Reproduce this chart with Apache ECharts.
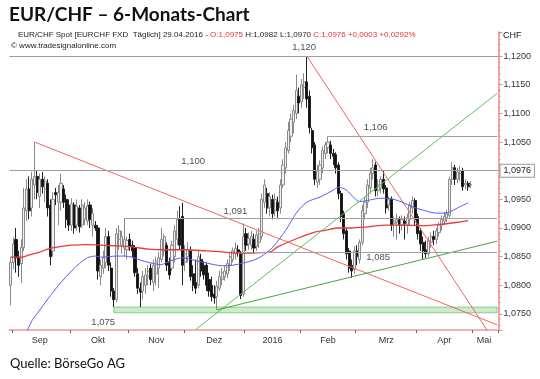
<!DOCTYPE html>
<html><head><meta charset="utf-8">
<script src="https://cdn.jsdelivr.net/npm/echarts@6/dist/echarts.min.js"></script>
<style>html,body{margin:0;padding:0;background:#fff}#c{width:540px;height:379px}</style>
</head><body><div id="c"></div>
<script>
// daily bars [open, close, low, high], 2015-08-31 .. 2016-04-29 (weekdays)
const ohlc = [
[1.0800,1.0840,1.0765,1.0850],
[1.0840,1.0872,1.0828,1.0884],[1.0880,1.0848,1.0822,1.0900],[1.0848,1.0835,1.0815,1.0860],[1.0838,1.0866,1.0804,1.0880],
[1.0866,1.0935,1.0860,1.0970],[1.0930,1.0968,1.0912,1.0985],[1.0968,1.0930,1.0915,1.0990],[1.0935,1.0985,1.0920,1.0998],
[1.0975,1.0990,1.0950,1.1050],[1.0990,1.0962,1.0950,1.1000],[1.0955,1.0985,1.0935,1.0995],[1.0985,1.0972,1.0960,1.0998],
[1.0968,1.0982,1.0945,1.0990],[1.0978,1.0935,1.0920,1.0985],[1.0940,1.0850,1.0835,1.0950],[1.0860,1.0950,1.0850,1.0962],
[1.0962,1.0958,1.0940,1.0970],[1.0945,1.0962,1.0905,1.0975],[1.0945,1.0978,1.0930,1.0995],[1.0968,1.0945,1.0935,1.0975],
[1.0950,1.0915,1.0900,1.0958],[1.0940,1.0905,1.0895,1.0950],
[1.0905,1.0942,1.0895,1.0952],[1.0940,1.0900,1.0890,1.0945],[1.0905,1.0938,1.0895,1.0950],[1.0935,1.0902,1.0892,1.0940],
[1.0905,1.0940,1.0900,1.0950],[1.0915,1.0935,1.0905,1.0945],[1.0912,1.0938,1.0905,1.0950],[1.0940,1.0915,1.0900,1.0946],
[1.0905,1.0925,1.0885,1.0935],[1.0905,1.0900,1.0895,1.0912],[1.0900,1.0825,1.0810,1.0905],[1.0815,1.0835,1.0800,1.0845],
[1.0830,1.0848,1.0820,1.0860],[1.0840,1.0885,1.0830,1.0900],[1.0885,1.0835,1.0825,1.0895],[1.0830,1.0790,1.0780,1.0840],
[1.0790,1.0775,1.0762,1.0795],[1.0775,1.0890,1.0770,1.0900],[1.0880,1.0895,1.0862,1.0905],[1.0870,1.0885,1.0855,1.0895],
[1.0865,1.0880,1.0850,1.0917],[1.0862,1.0878,1.0845,1.0885],
[1.0880,1.0868,1.0860,1.0890],[1.0870,1.0860,1.0848,1.0878],[1.0865,1.0822,1.0815,1.0870],[1.0820,1.0795,1.0785,1.0830],
[1.0795,1.0788,1.0762,1.0805],[1.0790,1.0815,1.0775,1.0825],[1.0800,1.0818,1.0785,1.0830],[1.0815,1.0825,1.0800,1.0835],
[1.0830,1.0810,1.0800,1.0838],[1.0805,1.0835,1.0790,1.0845],[1.0820,1.0842,1.0800,1.0850],[1.0830,1.0848,1.0795,1.0858],
[1.0845,1.0880,1.0840,1.0900],[1.0860,1.0885,1.0850,1.0890],[1.0870,1.0835,1.0825,1.0875],[1.0840,1.0818,1.0810,1.0848],
[1.0830,1.0870,1.0825,1.0878],[1.0850,1.0895,1.0840,1.0905],[1.0880,1.0915,1.0870,1.0930],[1.0915,1.0870,1.0862,1.0938],
[1.0920,1.0835,1.0800,1.0944],
[1.0840,1.0855,1.0825,1.0870],[1.0850,1.0862,1.0840,1.0875],[1.0860,1.0815,1.0808,1.0868],[1.0820,1.0800,1.0790,1.0835],
[1.0805,1.0795,1.0785,1.0845],[1.0800,1.0850,1.0795,1.0860],[1.0845,1.0825,1.0815,1.0855],[1.0835,1.0818,1.0810,1.0842],
[1.0835,1.0800,1.0790,1.0840],[1.0810,1.0790,1.0780,1.0822],[1.0800,1.0780,1.0772,1.0815],[1.0785,1.0778,1.0768,1.0800],
[1.0780,1.0798,1.0757,1.0808],[1.0795,1.0815,1.0790,1.0825],[1.0810,1.0822,1.0800,1.0830],[1.0815,1.0825,1.0808,1.0835],
[1.0820,1.0838,1.0812,1.0845],[1.0835,1.0850,1.0825,1.0858],[1.0845,1.0860,1.0840,1.0866],[1.0855,1.0865,1.0845,1.0875],
[1.0862,1.0858,1.0850,1.0870],[1.0855,1.0782,1.0776,1.0860],[1.0785,1.0885,1.0780,1.0908],
[1.0890,1.0870,1.0860,1.0900],[1.0872,1.0882,1.0862,1.0892],[1.0870,1.0885,1.0862,1.0895],[1.0880,1.0865,1.0855,1.0890],
[1.0868,1.0888,1.0860,1.0895],[1.0875,1.0890,1.0865,1.0900],[1.0885,1.0950,1.0880,1.0960],[1.0945,1.0975,1.0935,1.0985],
[1.0960,1.0935,1.0925,1.0970],[1.0935,1.0955,1.0920,1.0962],[1.0950,1.0925,1.0915,1.0958],[1.0930,1.0950,1.0920,1.0960],
[1.0945,1.0930,1.0918,1.0955],[1.0935,1.0975,1.0925,1.0985],[1.0975,1.1010,1.0970,1.1020],[1.1005,1.1040,1.0995,1.1050],
[1.1035,1.1070,1.1030,1.1085],[1.1060,1.1090,1.1050,1.1100],[1.1085,1.1105,1.1065,1.1115],[1.1100,1.1140,1.1090,1.1168],
[1.1130,1.1118,1.1100,1.1145],
[1.1120,1.1150,1.1110,1.1160],[1.1145,1.1155,1.1125,1.1170],[1.1155,1.1125,1.1110,1.1200],[1.1130,1.1075,1.1065,1.1140],
[1.1070,1.1040,1.1030,1.1075],[1.1045,1.0985,1.0975,1.1050],[1.0980,1.1000,1.0970,1.1010],[1.0985,1.1010,1.0975,1.1018],
[1.1005,1.1035,1.0995,1.1042],[1.1030,1.1045,1.1020,1.1050],[1.1040,1.1050,1.1030,1.1060],[1.1045,1.1030,1.1020,1.1052],
[1.1030,1.1025,1.1010,1.1038],[1.1028,1.1005,1.0995,1.1032],[1.1010,1.0960,1.0950,1.1015],[1.0960,1.0920,1.0910,1.0965],
[1.0925,1.0890,1.0880,1.0930],[1.0895,1.0855,1.0845,1.0900],[1.0860,1.0830,1.0822,1.0865],[1.0835,1.0825,1.0813,1.0845],
[1.0828,1.0860,1.0820,1.0868],
[1.0860,1.0850,1.0835,1.0870],[1.0845,1.0875,1.0838,1.0880],[1.0875,1.0930,1.0870,1.0940],[1.0925,1.0945,1.0915,1.0955],
[1.0945,1.0975,1.0935,1.0985],[1.0970,1.0995,1.0960,1.1005],[1.0995,1.1005,1.0985,1.1020],[1.1010,1.0965,1.0955,1.1015],
[1.0965,1.0975,1.0955,1.0985],[1.0970,1.0985,1.0960,1.0990],[1.0985,1.0968,1.0960,1.1000],[1.0970,1.0935,1.0925,1.0975],
[1.0940,1.0950,1.0930,1.0955],[1.0950,1.0905,1.0895,1.0955],[1.0908,1.0912,1.0885,1.0920],[1.0910,1.0915,1.0880,1.0925],
[1.0915,1.0905,1.0890,1.0920],[1.0905,1.0915,1.0895,1.0922],[1.0912,1.0908,1.0880,1.0920],[1.0905,1.0918,1.0890,1.0925],
[1.0915,1.0940,1.0905,1.0945],[1.0935,1.0948,1.0925,1.0955],[1.0948,1.0915,1.0905,1.0952],
[1.0920,1.0890,1.0880,1.0925],[1.0895,1.0872,1.0860,1.0900],[1.0875,1.0860,1.0845,1.0885],[1.0862,1.0855,1.0848,1.0878],
[1.0855,1.0878,1.0850,1.0885],[1.0875,1.0885,1.0865,1.0892],[1.0885,1.0880,1.0870,1.0895],[1.0880,1.0895,1.0872,1.0900],
[1.0892,1.0905,1.0885,1.0910],[1.0905,1.0915,1.0895,1.0922],[1.0912,1.0920,1.0905,1.0928],[1.0918,1.0925,1.0910,1.0932],
[1.0922,1.0985,1.0918,1.0990],[1.0985,1.1005,1.0975,1.1015],[1.1005,1.0985,1.0975,1.1010],[1.0985,1.0998,1.0978,1.1005],
[1.0995,1.1000,1.0982,1.1008],[1.1000,1.0972,1.0965,1.1005],[1.0975,1.0978,1.0968,1.0985],[1.0978,1.0972,1.0965,1.0982],
[1.0975,1.0976,1.0970,1.0982]
];

const blueMA = [['2015-09-08',1.0718],['2015-09-10',1.0738],['2015-09-15',1.0757],['2015-09-21',1.0782],['2015-09-25',1.0805],
['2015-10-01',1.0825],['2015-10-06',1.0838],['2015-10-09',1.0848],['2015-10-14',1.0851],['2015-10-16',1.0849],['2015-10-21',1.0850],
['2015-10-26',1.0851],['2015-10-29',1.0851],['2015-11-03',1.0849],['2015-11-06',1.0844],['2015-11-12',1.0839],['2015-11-18',1.0836],
['2015-11-20',1.0840],['2015-11-25',1.0845],['2015-11-30',1.0848],['2015-12-04',1.0844],['2015-12-09',1.0841],['2015-12-16',1.0836],
['2015-12-21',1.0834],['2015-12-25',1.0835],['2015-12-31',1.0839],['2016-01-06',1.0844],['2016-01-11',1.0851],['2016-01-15',1.0866],
['2016-01-22',1.0896],['2016-01-28',1.0926],['2016-02-03',1.0945],['2016-02-10',1.0954],['2016-02-17',1.0966],['2016-02-19',1.0971],
['2016-02-24',1.0966],['2016-02-29',1.0952],['2016-03-02',1.0946],['2016-03-08',1.0949],['2016-03-14',1.0952],['2016-03-18',1.0951],
['2016-03-24',1.0945],['2016-03-30',1.0937],['2016-04-05',1.0931],['2016-04-12',1.0926],['2016-04-15',1.0926],['2016-04-19',1.0928],
['2016-04-22',1.0935],['2016-04-28',1.0944]];

const redMA = [['2015-08-31',1.0849],['2015-09-04',1.0849],['2015-09-09',1.0853],['2015-09-15',1.0858],['2015-09-18',1.0863],
['2015-09-24',1.0867],['2015-10-01',1.0870],['2015-10-09',1.0871],['2015-10-16',1.0870],['2015-10-23',1.0869],['2015-11-03',1.0867],
['2015-11-11',1.0863],['2015-11-20',1.0862],['2015-12-01',1.0862],['2015-12-11',1.0860],['2015-12-22',1.0858],['2015-12-30',1.0856],
['2016-01-08',1.0857],['2016-01-14',1.0858],['2016-01-19',1.0867],['2016-01-29',1.0883],['2016-02-08',1.0893],['2016-02-12',1.0896],
['2016-02-19',1.0900],['2016-02-26',1.0900],['2016-03-07',1.0902],['2016-03-16',1.0905],['2016-03-24',1.0905],['2016-04-05',1.0904],
['2016-04-15',1.0907],['2016-04-22',1.0910],['2016-04-28',1.0913]];

const redTrend1 = [['2015-09-11',1.1050],['2016-05-13',1.0731]];
const redTrend2 = [['2016-02-03',1.1200],['2016-05-10',1.0716]];
const greenTrend1 = [['2015-12-07',1.0723],['2016-05-13',1.1135]];
const greenTrend2 = [['2015-12-17',1.0757],['2016-05-13',1.0877]];

// horizontal levels: [start date (null = full width), value]
const levels = [[null,1.1200],[null,1.1000],['2016-02-15',1.1060],['2015-10-29',1.0917],['2015-12-30',1.0857]];
const band = [['2015-10-23',1.0752],['2016-05-13',1.0762]];
const levelLabels = [['2016-02-02',1.1216,'1,120'],['2016-03-10',1.1076,'1,106'],['2015-12-04',1.1017,'1,100'],
['2015-12-28',1.0929,'1,091'],['2016-03-11',1.0848,'1,085'],['2015-10-19',1.0736,'1,075']];
const lastClose = 1.0976;

const monthKeys = ['2015-09','2015-10','2015-11','2015-12','2016-01','2016-02','2016-03','2016-04','2016-05'];
const monthLabels = ['Sep','Okt','Nov','Dez','2016','Feb','Mrz','Apr','Mai'];

// axis categories: weekdays 2015-08-31 .. 2016-05-13
const dates = [];
for (let d = new Date(Date.UTC(2015,7,31)); d <= new Date(Date.UTC(2016,4,13)); d.setUTCDate(d.getUTCDate()+1)) {
  const w = d.getUTCDay(); if (w > 0 && w < 6) dates.push(d.toISOString().slice(0,10));
}
const lastCat = dates[dates.length-1];
const tickSet = new Set();
for (let i = 1; i < dates.length; i++) if (dates[i].slice(0,7) !== dates[i-1].slice(0,7)) tickSet.add(i);
const labelMap = {};
monthKeys.forEach((k, m) => {
  let s = -1, e = -1;
  dates.forEach((d, i) => { if (d.slice(0,7) === k) { if (s < 0) s = i; e = i; } });
  labelMap[Math.floor((s + e) / 2)] = monthLabels[m];
});

const FONT = 'Liberation Sans';
const chart = echarts.init(document.getElementById('c'), null, {renderer:'canvas'});

const levelData = levels.map(([s, v]) => s === null
  ? {yAxis: v}
  : [{coord:[s, v]}, {coord:[lastCat, v]}]);
levelData.push({yAxis: lastClose, lineStyle:{color:'rgba(0,0,0,0)', width:0},
  label:{show:true, position:'end', formatter:lastClose.toFixed(4).replace('.', ','), color:'#222', fontSize:9, fontFamily:FONT,
  backgroundColor:'#fff', borderColor:'#999', borderWidth:1, padding:[2,3,1,3], distance:2}});

function trend(data, color) {
  return {type:'line', data, symbol:'none', silent:true, z:4,
    lineStyle:{color, width:1}, emphasis:{disabled:true}};
}

chart.setOption({
  animation:false,
  grid:{left:9.4, right:41.5, top:32, bottom:49, containLabel:false},
  xAxis:{type:'category', data:dates, boundaryGap:true,
    axisLine:{show:true, lineStyle:{color:'#f5b0b0', width:2}},
    axisTick:{show:true, interval:(i)=>tickSet.has(i), length:3, lineStyle:{color:'#666'}},
    axisLabel:{interval:(i)=>labelMap[i] !== undefined, formatter:(v, i)=>labelMap[i] || '',
      color:'#333', fontSize:9, fontFamily:FONT, margin:6},
    splitLine:{show:false}},
  yAxis:{type:'value', position:'right', min:1.0722, max:1.1242, splitNumber:10,
    axisLine:{show:true, lineStyle:{color:'#ee8a8a', width:1.5}},
    axisTick:{show:true, length:4, lineStyle:{color:'#ee8a8a'}},
    minorTick:{show:true, splitNumber:5, length:2, lineStyle:{color:'#ee8a8a'}},
    splitLine:{show:false},
    axisLabel:{showMinLabel:false, showMaxLabel:false, formatter:(v)=>v.toFixed(4).replace('.', ','),
      color:'#333', fontSize:9, fontFamily:FONT, margin:5}},
  series:[
    {type:'candlestick', data:ohlc, barWidth:2.6, z:3,
      itemStyle:{color:'#f0f0f0', color0:'#111', borderColor:'#8a8a8a', borderColor0:'#222', borderWidth:1},
      markLine:{silent:true, symbol:['none','none'], label:{show:false},
        lineStyle:{color:'#a0a0a0', width:1, type:'solid'}, data:levelData},
      markArea:{silent:true, itemStyle:{color:'rgba(140,210,140,0.45)', borderColor:'rgba(80,180,80,0.6)', borderWidth:1},
        data:[[{coord:band[0]}, {coord:band[1]}]]}},
    {type:'line', data:blueMA, symbol:'none', smooth:0.3, z:4, lineStyle:{color:'#5b5bf5', width:1}},
    {type:'line', data:redMA, symbol:'none', smooth:0.3, z:4, lineStyle:{color:'#e83a3a', width:1.3}},
    trend(redTrend1, '#f06464'), trend(redTrend2, '#f06464'),
    trend(greenTrend1, '#5cbf5c'), trend(greenTrend2, '#3fa83f'),
    {type:'scatter', data:levelLabels, symbolSize:1, itemStyle:{color:'rgba(0,0,0,0)'}, z:6,
      label:{show:true, position:'inside', formatter:(p)=>p.data[2], color:'#222', fontSize:9.5, fontFamily:FONT}}
  ],
  graphic:[
    {type:'text', left:9, top:5, style:{text:'EUR/CHF – 6-Monats-Chart', font:'bold 19px Lato', fill:'#111'}},
    {type:'text', left:18, top:31, style:{
      text:'{k|EUR/CHF Spot [EURCHF FXD  Täglich] 29.04.2016 - }{r|O:1,0975 }{k|H:1,0982 L:1,0970 }{r|C:1,0976 +0,0003 +0,0292%}',
      rich:{k:{fill:'#222', fontSize:8, fontFamily:FONT}, r:{fill:'#e83030', fontSize:8, fontFamily:FONT}}}},
    {type:'text', left:11, top:42, style:{text:'© www.tradesignalonline.com', fontSize:8, fontFamily:FONT, fill:'#222'}},
    {type:'text', left:503, top:31, style:{text:'CHF', fontSize:9, fontFamily:FONT, fill:'#222'}},
    {type:'text', left:10, top:357, style:{text:'Quelle: BörseGo AG', font:'13px Lato', fill:'#111'}}
  ]
});
</script></body></html>
